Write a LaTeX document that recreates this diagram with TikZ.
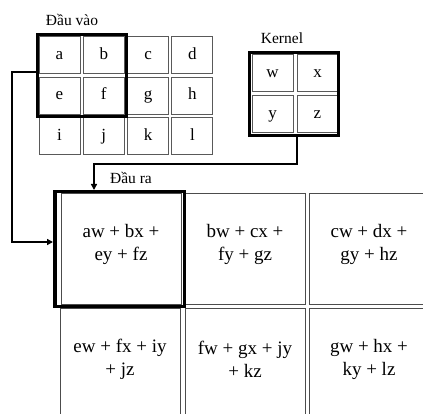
\documentclass[tikz,border=0pt]{standalone}
\usepackage{fontspec}
\setmainfont{Liberation Serif}
\usetikzlibrary{arrows.meta}

\tikzset{
  incell/.style={draw=black!65, line width=1pt, minimum width=41pt, minimum height=37pt,
    inner sep=0pt, font=\fontsize{17}{19}\selectfont},
  outcell/.style={draw=black!70, line width=1pt, minimum width=120pt, minimum height=110pt, inner sep=0pt},
  outtext/.style={align=center, inner sep=0pt, font=\fontsize{19}{23}\selectfont},
  window/.style={draw=black, line width=3pt, inner sep=0pt},
  caption/.style={inner sep=0pt, font=\fontsize{15.5}{18}\selectfont},
  conn/.style={draw=black, line width=1.6pt, -{Triangle[length=6pt,width=6pt]}}
}

\begin{document}
\begin{tikzpicture}[x=1pt, y=-1pt]
  \useasboundingbox (0,0) rectangle (423,414);

  % input matrix 3x4
  \foreach \lbl [count=\i from 0] in {a,b,c,d,e,f,g,h,i,j,k,l} {
    \pgfmathtruncatemacro{\c}{mod(\i,4)}
    \pgfmathtruncatemacro{\r}{div(\i,4)}
    \pgfmathsetmacro{\cx}{59.5+44.3*\c}
    \pgfmathsetmacro{\cy}{55.5+40.5*\r}
    \node[incell] (in\lbl) at (\cx,\cy) {\strut\lbl};
  }
  \node[window, minimum width=89pt, minimum height=82pt] (inwin) at (82,75.5) {};
  \node[caption] (inlabel) at (72,20) {Đầu vào};

  % kernel 2x2
  \node[incell] (kw) at (272.5,73.5) {\strut w};
  \node[incell] (kx) at (317.5,73.5) {\strut x};
  \node[incell] (ky) at (272.5,114.5) {\strut y};
  \node[incell] (kz) at (317.5,114.5) {\strut z};
  \node[window, minimum width=89pt, minimum height=83pt] (kwin) at (294,94) {};
  \node[caption] (klabel) at (282,38) {Kernel};

  % output matrix 2x3
  \node[outcell] (o1) at (121,249) {};
  \node[outcell] (o2) at (245,249) {};
  \node[outcell] (o3) at (369,249) {};
  \node[outcell] (o4) at (120,363) {};
  \node[outcell] (o5) at (245,363) {};
  \node[outcell] (o6) at (369,363) {};
  \node[outtext] (t1) at ([yshift=5pt]o1.center) {aw + bx +\\ey + fz};
  \node[outtext] (t2) at ([yshift=5pt]o2.center) {bw + cx +\\fy + gz};
  \node[outtext] (t3) at ([yshift=5pt]o3.center) {cw + dx +\\gy + hz};
  \node[outtext] (t4) at ([yshift=4pt]o4.center) {ew + fx + iy\\+ jz};
  \node[outtext] (t5) at ([yshift=4pt]o5.center) {fw + gx + jy\\+ kz};
  \node[outtext] (t6) at ([yshift=4pt]o6.center) {gw + hx +\\ky + lz};
  \node[window, line width=3.5pt, minimum width=129.5pt, minimum height=114.5pt] (outwin) at (119.5,249) {};
  \node[caption] (outlabel) at (131,178) {Đầu ra};

  % connectors
  \draw[conn] ([yshift=3.5pt]inwin.west) -- ++(-24,0) |- ([yshift=7pt]outwin.west);
  \draw[conn] ([xshift=3pt]kwin.south) -- ++(0,27) -| ([xshift=-25.5pt]outwin.north);
\end{tikzpicture}
\end{document}
